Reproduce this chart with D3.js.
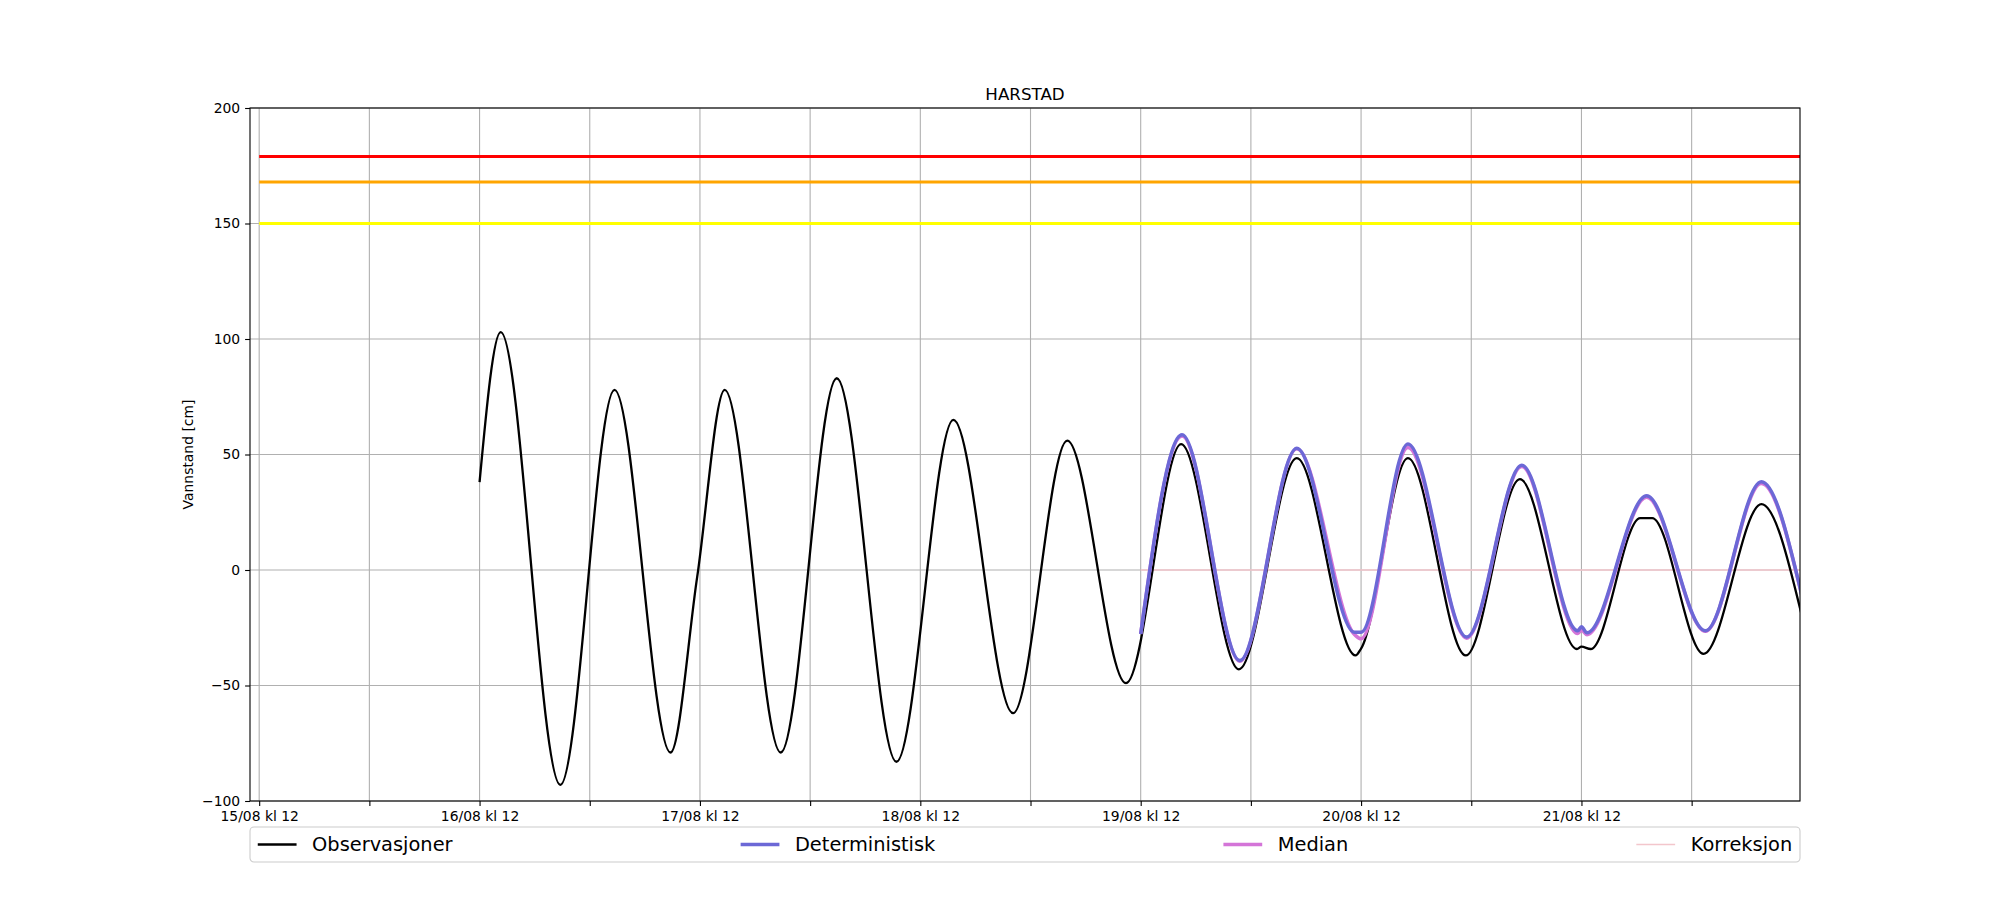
<!DOCTYPE html>
<html>
<head>
<meta charset="utf-8">
<script src="https://d3js.org/d3.v7.min.js"></script>
<style>
    body { margin: 0; background: white; }
    text { font-family: "DejaVu Sans", sans-serif; fill: black; }
</style>
</head>
<body>
<script>
    var margin = {top: 108, right: 200, bottom: 99, left: 250};
    var width = 2000 - margin.left - margin.right,
        height = 900 - margin.top - margin.bottom;

    // observasjoner (vannstand i cm), lest av bildet
    let obsTimes = ["2024-08-16 12:00", "2024-08-16 14:18", "2024-08-16 20:48", "2024-08-17 02:42",
        "2024-08-17 08:48", "2024-08-17 11:42", "2024-08-17 14:42", "2024-08-17 20:48",
        "2024-08-18 02:54", "2024-08-18 09:24", "2024-08-18 15:36", "2024-08-18 22:06",
        "2024-08-19 04:00", "2024-08-19 10:24", "2024-08-19 16:24", "2024-08-19 22:42",
        "2024-08-20 05:00", "2024-08-20 11:24", "2024-08-20 12:00", "2024-08-20 17:06",
        "2024-08-20 23:24", "2024-08-21 05:18", "2024-08-21 11:30", "2024-08-21 12:00",
        "2024-08-21 13:00", "2024-08-21 18:24", "2024-08-21 19:42", "2024-08-22 01:18",
        "2024-08-22 07:36", "2024-08-22 12:00"];
    let obsValues = [38, 103, -93, 78,
        -79, -3, 78, -79,
        83, -83, 65, -62,
        56, -49, 54.5, -43,
        48.4, -37, -34, 48.4,
        -37, 39.3, -34.2, -33.2,
        -34.2, 22.5, 22.5, -36.3,
        28.5, -19.8];

    // prognoser: deterministisk og median (samme tidspunkt)
    let fcTimes = ["2024-08-19 12:00", "2024-08-19 16:30", "2024-08-19 22:48", "2024-08-20 05:00",
        "2024-08-20 11:18", "2024-08-20 12:00", "2024-08-20 17:06", "2024-08-20 23:30",
        "2024-08-21 05:30", "2024-08-21 11:36", "2024-08-21 12:00", "2024-08-21 12:36",
        "2024-08-21 19:06", "2024-08-22 01:30", "2024-08-22 07:36", "2024-08-22 12:00"];
    let detValues = [-27.7, 58.5, -39.2, 52.7,
        -27, -27, 54.5, -29,
        45.4, -26.3, -24.6, -27.2,
        32.1, -26.3, 38.2, -11];
    let medianValues = [-27.7, 58, -39.5, 52.5,
        -28, -29.8, 53, -29.5,
        44.8, -27.5, -26, -28,
        31.5, -26.5, 37.5, -11];

    let korrTimes = ["2024-08-19 12:00", "2024-08-22 12:00"];
    let korrValues = [0, 0];

    // farevarsel-nivåer
    let thresholdValues = [179, 168, 150];
    let thresholdColors = ["#ff0000", "#ffa500", "#ffff00"];
    let thresholdStart = "2024-08-15 12:00";

    let yTicks = [-100, -50, 0, 50, 100, 150, 200];
    let seriesNames = ["Observasjoner", "Deterministisk", "Median", "Korreksjon"];
    let seriesColors = ["#000000", "#6c68d6", "#d475d8", "#f3c6cc"];
    let seriesWidths = [2.3, 3.5, 3.5, 1.4];

    let parse = d3.utcParse("%Y-%m-%d %H:%M");
    let toPoints = (times, values) => times.map((t, i) => ({t: parse(t), v: values[i]}));

    let svg = d3.select("body").append("svg")
        .attr("width", width + margin.left + margin.right)
        .attr("height", height + margin.top + margin.bottom)
        .append("g")
        .attr("transform", "translate(" + margin.left + "," + margin.top + ")");

    let x = d3.scaleUtc()
        .domain([parse("2024-08-15 11:00"), parse("2024-08-22 11:48")])
        .range([0, width]);
    let y = d3.scaleLinear()
        .domain([-100, 200])
        .range([height, 0]);

    let xTicks = x.ticks(d3.utcHour.every(12));
    let fmt = d3.utcFormat("%d/%m kl %H");

    // grid
    svg.selectAll(".vgrid").data(xTicks).enter().append("line")
        .attr("x1", d => x(d)).attr("x2", d => x(d))
        .attr("y1", 0).attr("y2", height)
        .attr("stroke", "#b0b0b0").attr("stroke-width", 1.1);
    svg.selectAll(".hgrid").data(yTicks).enter().append("line")
        .attr("x1", 0).attr("x2", width)
        .attr("y1", d => y(d)).attr("y2", d => y(d))
        .attr("stroke", "#b0b0b0").attr("stroke-width", 1.1);

    svg.append("clipPath").attr("id", "clip")
        .append("rect").attr("width", width).attr("height", height);
    let plot = svg.append("g").attr("clip-path", "url(#clip)");

    // nivålinjer
    thresholdValues.forEach((v, i) =>
        plot.append("line")
            .attr("x1", x(parse(thresholdStart)))
            .attr("x2", width)
            .attr("y1", y(v)).attr("y2", y(v))
            .attr("stroke", thresholdColors[i])
            .attr("stroke-width", 3)
    );

    let line = d3.line()
        .x(d => x(d.t))
        .y(d => y(d.v))
        .curve(d3.curveMonotoneX);

    let series = [
        {idx: 3, pts: toPoints(korrTimes, korrValues)},
        {idx: 0, pts: toPoints(obsTimes, obsValues)},
        {idx: 2, pts: toPoints(fcTimes, medianValues)},
        {idx: 1, pts: toPoints(fcTimes, detValues)}
    ];
    series.forEach(s =>
        plot.append("path")
            .datum(s.pts)
            .attr("d", line)
            .attr("fill", "none")
            .attr("stroke", seriesColors[s.idx])
            .attr("stroke-width", seriesWidths[s.idx])
            .attr("stroke-linejoin", "round")
    );

    // axes
    let xAxis = svg.append("g")
        .attr("transform", "translate(0," + height + ")")
        .call(d3.axisBottom(x).tickValues(xTicks).tickSize(4.9).tickPadding(4.9)
            .tickFormat(d => d.getUTCHours() == 12 ? fmt(d) : ""));
    let yAxis = svg.append("g")
        .call(d3.axisLeft(y).tickValues(yTicks).tickSize(4.9).tickPadding(4.9)
            .tickFormat(d => d < 0 ? "\u2212" + Math.abs(d) : d));
    [xAxis, yAxis].forEach(a => {
        a.select(".domain").remove();
        a.selectAll(".tick line").attr("stroke", "black").attr("stroke-width", 1.1);
        a.selectAll("text").style("font-family", "DejaVu Sans").style("font-size", "13.9px").attr("fill", "black");
    });

    svg.append("rect")
        .attr("width", width).attr("height", height)
        .attr("fill", "none").attr("stroke", "black").attr("stroke-width", 1.1);

    svg.append("text")
        .attr("x", width / 2).attr("y", -8)
        .attr("text-anchor", "middle")
        .style("font-size", "16.7px")
        .text("HARSTAD");

    svg.append("text")
        .attr("transform", "translate(-57," + (height / 2) + ") rotate(-90)")
        .attr("text-anchor", "middle")
        .style("font-size", "13.9px")
        .text("Vannstand [cm]");

    // legend, spread over the full axes width (like mode="expand")
    let fs = 19.4;
    let legendTop = height + 26, legendH = 35;
    let legend = svg.append("g");
    legend.append("rect")
        .attr("x", 0).attr("y", legendTop)
        .attr("width", width).attr("height", legendH)
        .attr("rx", 4).attr("ry", 4)
        .attr("fill", "white").attr("fill-opacity", 0.8)
        .attr("stroke", "#cccccc").attr("stroke-width", 1.1);

    let pad = 0.4 * fs, handleLen = 2 * fs, handlePad = 0.8 * fs;
    let items = seriesNames.map((name, i) => {
        let g = legend.append("g");
        let t = g.append("text")
            .attr("x", handleLen + handlePad)
            .attr("y", legendTop + legendH / 2)
            .attr("dy", "0.35em")
            .style("font-size", fs + "px")
            .text(name);
        g.append("line")
            .attr("x1", 0).attr("x2", handleLen)
            .attr("y1", legendTop + legendH / 2).attr("y2", legendTop + legendH / 2)
            .attr("stroke", seriesColors[i])
            .attr("stroke-width", seriesWidths[i]);
        return {g: g, w: handleLen + handlePad + t.node().getComputedTextLength()};
    });
    let totalW = d3.sum(items, d => d.w);
    let gap = (width - 2 * pad - totalW) / (items.length - 1);
    let cx = pad;
    items.forEach(it => {
        it.g.attr("transform", "translate(" + cx + ",0)");
        cx += it.w + gap;
    });
</script>
</body>
</html>
